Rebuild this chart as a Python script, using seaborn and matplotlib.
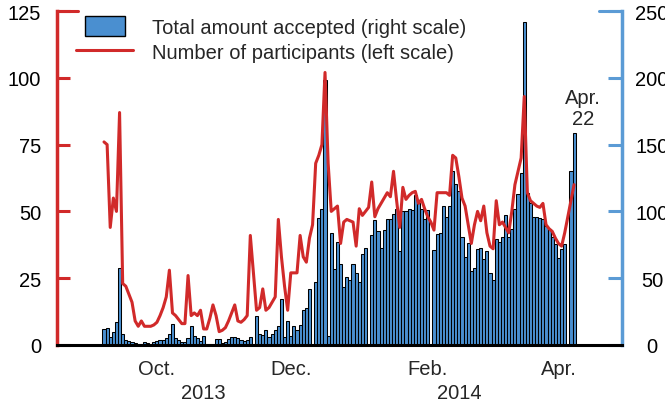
import matplotlib
matplotlib.use("Agg")
import numpy as np
import pandas as pd
import matplotlib.pyplot as plt
import matplotlib.patches as mpatches
import matplotlib.transforms as mtransforms
from matplotlib.lines import Line2D
from matplotlib.legend_handler import HandlerPatch
import seaborn as sns

# business days of the overnight RRP exercise
dates = pd.bdate_range("2013-09-23", "2014-04-22")

# total amount accepted, $bn (right scale)
amount = [12, 13, 6, 9.5, 17, 58, 8, 4, 3, 2,
          1.5, 1, 0.5, 2, 1.5, 0.5, 2, 3, 3.5, 4,
          5, 8, 16, 5, 3.5, 2, 2, 5, 14, 7,
          5, 3, 6.5, 1, 1, 0.5, 4.5, 4.3, 1.3, 2,
          4.5, 6, 6, 5, 3.5, 3.2, 3.7, 5.7, 0.7, 22,
          8, 7.2, 11, 5.7, 8, 11, 14, 34.4, 5.7, 18,
          6.5, 14, 11, 15, 26, 28, 42, 0, 47, 95,
          102, 198, 7, 84, 57, 77, 61, 43.6, 51, 49,
          61, 54, 47, 68, 72.6, 0, 82.5, 93.5, 85, 72.5,
          86, 94, 94, 98, 102, 70.6, 100, 100, 102, 101,
          112, 106, 102, 94, 101, 0, 71, 83, 84, 104,
          96, 104, 130, 120.5, 115, 80.6, 66, 76, 55.6, 58,
          72, 72.4, 64, 70.6, 54, 48.6, 79, 77, 81, 97,
          80.6, 87, 102, 113, 128.7, 242, 113.7, 106, 96, 95.6,
          94.8, 94.3, 88.8, 86.8, 81, 75.6, 65, 72, 75.6, 0,
          130, 159]

# number of participants (left scale)
participants = [76, 75, 44, 55, 50, 87, 23, 22, 19, 16,
                9, 7, 9, 7, 7, 7, 7.5, 8.5, 11, 14,
                18, 28, 12, 11, 9.5, 8, 8, 26, 11, 12,
                11, 13, 6, 6, 10, 15, 11, 5, 5.5, 6.5,
                9, 12, 15, 9, 8.5, 9.5, 11, 41, 27, 13,
                14, 21, 13, 14, 16, 18, 47, 33, 22, 13,
                27, 27, 27, 41, 33, 31, 40, 45, 68, 71,
                75, 102, 68, 50, 51, 52, 38, 46, 47, 46.5,
                46, 37, 51, 48.5, 50, 51.5, 61, 48, 51, 53,
                55, 57, 55.5, 65, 54, 44, 59, 54.5, 56, 57,
                57.5, 53, 54.5, 51, 48, 46, 43, 57, 57, 57,
                57, 56, 71, 70, 63, 55, 52, 45, 38, 45,
                50, 46.5, 52, 42, 37, 36, 54, 45, 46, 44,
                42, 50, 60, 65, 70, 93, 57, 54, 53, 52,
                51.5, 53, 45, 43.5, 42.5, 40, 38, 37, 42, 48,
                54, 60]

month_dates = ["2013-10-16", "2013-12-16", "2014-02-14", "2014-04-15"]
month_labels = ["Oct.", "Dec.", "Feb.", "Apr."]
year_dates = ["2013-11-06", "2014-02-28"]
year_labels = ["2013", "2014"]

left_ticks = [0, 25, 50, 75, 100, 125]
right_ticks = [0, 50, 100, 150, 200, 250]

RED = "#d12a2a"
BLUE = "#4a8fd0"
SPINE_BLUE = "#5b9bd5"
FS = 14.5

idx = np.arange(len(dates))
pos = {d: i for i, d in enumerate(dates)}

sns.set_theme(style="white")
plt.rcParams['font.family'] = ['Liberation Sans', 'DejaVu Sans']

fig = plt.figure(figsize=(6.65, 4.02), dpi=100)
ax = fig.add_axes([57/665, 1-346/402, 565/665, 334/402])
ax2 = ax.twinx()

sns.barplot(x=idx, y=amount, ax=ax2, color=BLUE, edgecolor="black",
            linewidth=0.75, width=1.0, saturation=1, errorbar=None,
            native_scale=True)
sns.lineplot(x=idx, y=participants, ax=ax, color=RED, linewidth=2.2)

# line axes above the bars
ax.set_zorder(ax2.get_zorder() + 1)
ax.patch.set_visible(False)

ax.set_ylim(0, 125)
ax2.set_ylim(0, 250)
ax.set_xlim(-15.1, 166.4)
ax.set_xlabel("")
ax.set_ylabel("")
ax2.set_ylabel("")

# spines
for s in ["top", "right"]:
    ax.spines[s].set_visible(False)
for s in ["top", "left", "bottom"]:
    ax2.spines[s].set_visible(False)
ax.spines["left"].set_color(RED)
ax.spines["left"].set_linewidth(2.5)
ax.spines["bottom"].set_color("black")
ax.spines["bottom"].set_linewidth(2.2)
ax2.spines["right"].set_color(SPINE_BLUE)
ax2.spines["right"].set_linewidth(2.5)

# left ticks
ax.set_yticks(left_ticks)
ax.tick_params(axis="y", direction="in", length=9.4, width=2.2, color=RED,
               pad=11.5, labelsize=FS, labelcolor="black", left=True)
ax.axhline(125, xmin=0, xmax=21/565, color=RED, lw=2.2, clip_on=False)

# right ticks
ax2.set_yticks(right_ticks)
ax2.tick_params(axis="y", direction="in", length=10, width=2.2, color=SPINE_BLUE,
                pad=21.6, labelsize=FS, labelcolor="black", right=True)
for t, v in zip(ax2.yaxis.get_major_ticks(), right_ticks):
    t.label2.set_horizontalalignment("center")
    if v in (50, 150):
        t.tick2line.set_color("black")
ax2.axhline(250, xmin=1-23/565, xmax=1, color=SPINE_BLUE, lw=2.2, clip_on=False)

# x labels
ax.set_xticks([pos[pd.Timestamp(d)] for d in month_dates])
ax.set_xticklabels(month_labels)
ax.tick_params(axis="x", length=0, pad=10, labelsize=FS, bottom=True)
trans = mtransforms.blended_transform_factory(ax.transData, ax.transAxes)
for d, lab in zip(year_dates, year_labels):
    ax.text(pos[pd.Timestamp(d)], -0.141, lab, transform=trans, ha="center",
            va="center", fontsize=FS)

ax2.annotate("Apr.\n22", xy=(idx[-1], amount[-1]), xytext=(9, 5),
             textcoords="offset pixels", ha="center", va="bottom",
             fontsize=FS, linespacing=1.1)


def narrow_patch(legend, orig_handle, xdescent, ydescent, width, height, fontsize):
    return mpatches.Rectangle((-xdescent + 0.16 * width, -ydescent),
                              0.7 * width, height)


handles = [mpatches.Patch(facecolor=BLUE, edgecolor="black", linewidth=1),
           Line2D([], [], color=RED, lw=2.2)]
labels = ["Total amount accepted (right scale)",
          "Number of participants (left scale)"]
ax.legend(handles, labels, loc="upper left",
          bbox_to_anchor=(76/665, 1-17/402), bbox_transform=fig.transFigure,
          frameon=False, fontsize=FS, handlelength=2.83, handleheight=1.17,
          handletextpad=0.95, labelspacing=0.22, borderpad=0, borderaxespad=0,
          handler_map={mpatches.Patch: HandlerPatch(patch_func=narrow_patch)})

fig.savefig("out.png", dpi=100)
